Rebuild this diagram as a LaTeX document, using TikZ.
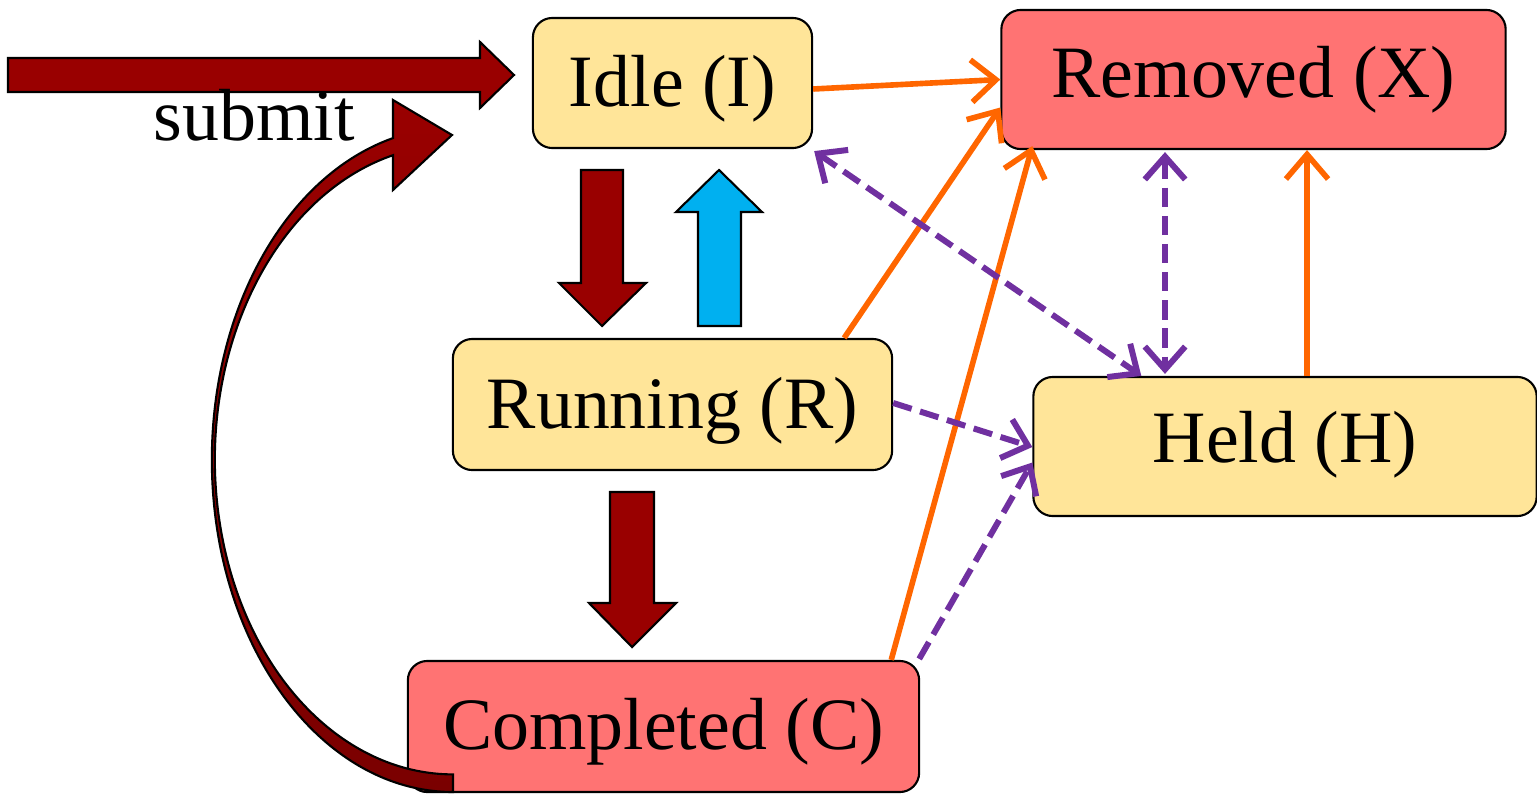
\documentclass[tikz,border=0pt]{standalone}
\usepackage{fontspec}
\setmainfont{Liberation Serif}
\usetikzlibrary{arrows.meta,calc}
\definecolor{darkred}{HTML}{990000}
\definecolor{deepred}{HTML}{7A0000}
\definecolor{boxyellow}{HTML}{FFE599}
\definecolor{boxred}{HTML}{FF7373}
\definecolor{skyblue}{HTML}{00B0F0}
\definecolor{orangeline}{HTML}{FF6600}
\definecolor{purpleline}{HTML}{7030A0}
\newcommand{\lowtext}[2]{\raisebox{-#1}[0pt][0pt]{#2}}
\begin{document}
\begin{tikzpicture}[x=0.01cm,y=0.01cm,
  box/.style={draw=black, line width=0.6pt, rounded corners=5.5pt, inner sep=0pt,
    font=\fontsize{21}{25}\selectfont},
  yellowbox/.style={box, fill=boxyellow},
  redbox/.style={box, fill=boxred},
  blockarrow/.style={draw=black, line width=0.6pt},
  orangearrow/.style={draw=orangeline, line width=1.6pt,
    -{Straight Barb[length=7pt,width=12pt,line width=1.6pt]}},
  purplearrow/.style={draw=purpleline, line width=1.7pt, dash pattern=on 5.5pt off 2.5pt,
    -{Straight Barb[length=6.5pt,width=11.5pt,line width=1.7pt]}},
  purpleboth/.style={purplearrow,
    {Straight Barb[length=6.5pt,width=11.5pt,line width=1.7pt]}-{Straight Barb[length=6.5pt,width=11.5pt,line width=1.7pt]}}
]
\useasboundingbox (0,0) rectangle (1537,793);

% nodes
\node[yellowbox, minimum width=2.79cm, minimum height=1.30cm] (I) at (672.5,710) {\lowtext{0.23cm}{Idle (I)}};
\node[redbox, minimum width=5.04cm, minimum height=1.39cm] (X) at (1253.5,713.5) {\lowtext{0.18cm}{Removed (X)}};
\node[yellowbox, minimum width=4.39cm, minimum height=1.31cm] (R) at (672.5,388.5) {\lowtext{0.235cm}{Running (R)}};
\node[yellowbox, minimum width=5.03cm, minimum height=1.39cm] (H) at (1285,346.5) {\lowtext{0.16cm}{Held (H)}};
\node[redbox, minimum width=5.11cm, minimum height=1.31cm] (C) at (663.5,66.5) {\lowtext{0.225cm}{Completed (C)}};

% block arrows
\filldraw[blockarrow, fill=darkred] (8,701) -- (480,701) -- (480,685) -- (514,718) -- (480,751) -- (480,735) -- (8,735) -- cycle;
\node[font=\fontsize{21}{25}\selectfont, inner sep=0pt, anchor=base] (submit) at (254,653) {submit};

\filldraw[blockarrow, fill=darkred] (581,623) -- (623,623) -- (623,510) -- (646,510) -- (602,467) -- (559,510) -- (581,510) -- cycle;
\filldraw[blockarrow, fill=skyblue] (698,467) -- (741,467) -- (741,581) -- (762,581) -- (719,623) -- (676,581) -- (698,581) -- cycle;
\filldraw[blockarrow, fill=darkred] (610,301) -- (654,301) -- (654,190) -- (676,190) -- (632,146) -- (589,190) -- (610,190) -- cycle;

% curved arrow from Completed back to Idle
\shadedraw[blockarrow, top color=darkred, bottom color=deepred]
  (453,1) arc[start angle=270, end angle=104.4, x radius=2.41cm, y radius=3.32cm]
  -- (393,693) -- (452,658) -- (393,603) -- (393,637.8)
  arc[start angle=104.6, end angle=270, x radius=2.38cm, y radius=3.145cm]
  -- cycle;

% orange connectors
\draw[orangearrow] ($(I.east)+(0,-6)$) -- (X.west);
\draw[orangearrow] ($(R.north east)+(-49,0)$) -- ($(X.west)+(0,-28)$);
\draw[orangearrow] ($(C.north east)+(-29,0)$) -- ($(X.south west)+(32,4)$);
\draw[orangearrow] ($(H.north)+(22,0)$) -- ($(X.south)+(53.5,0)$);

% purple connectors
\draw[purpleboth] ($(I.south east)+(1,-2)$) -- ($(H.north west)+(109,0)$);
\draw[purpleboth] ($(X.south)+(-88.5,-2)$) -- ($(H.north)+(-120,2)$);
\draw[purplearrow] ($(R.east)+(0,1.5)$) -- ($(H.west)+(0,-0.5)$);
\draw[purplearrow] ($(C.north east)+(-1,1)$) -- ($(H.west)+(0,-16)$);
\end{tikzpicture}
\end{document}
